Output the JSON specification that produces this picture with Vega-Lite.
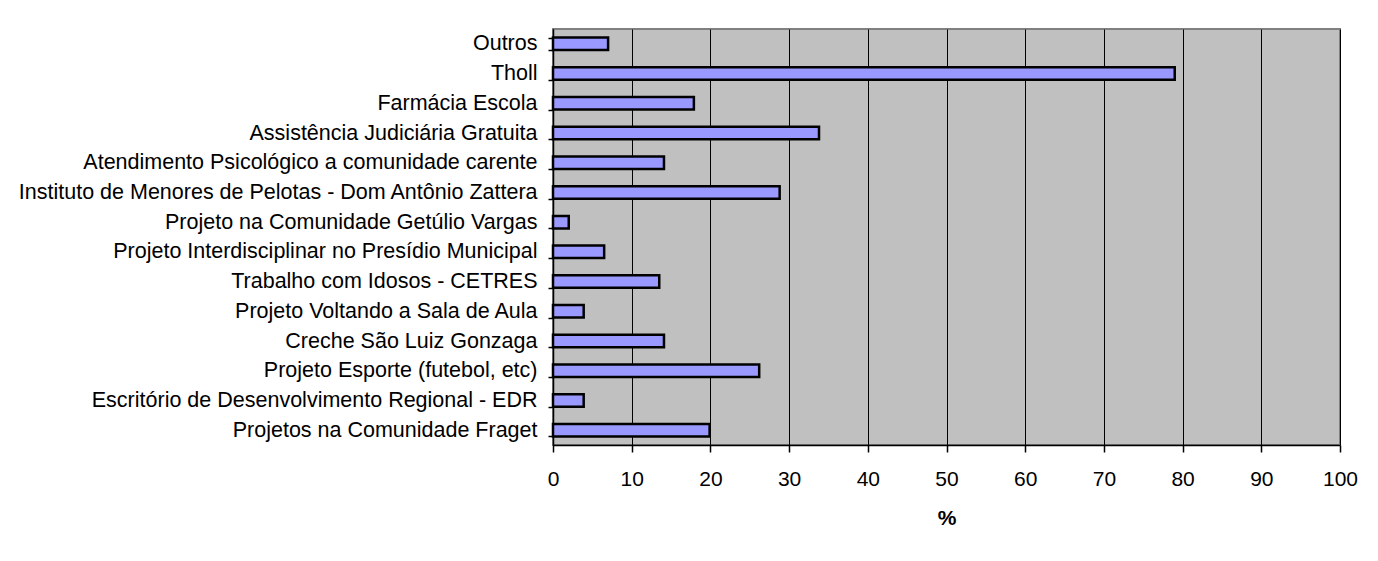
{
  "$schema": "https://vega.github.io/schema/vega-lite/v6.json",
  "width": 787,
  "height": 416,
  "autosize": {"type": "none"},
  "padding": {"left": 553, "top": 29, "right": 38, "bottom": 116},
  "background": "white",
  "data": {
    "values": [
      {"projeto": "Outros", "pct": 7.0},
      {"projeto": "Tholl", "pct": 79.0},
      {"projeto": "Farmácia Escola", "pct": 17.9},
      {"projeto": "Assistência Judiciária Gratuita", "pct": 33.8},
      {"projeto": "Atendimento Psicológico a comunidade carente", "pct": 14.1},
      {"projeto": "Instituto de Menores de Pelotas - Dom Antônio Zattera", "pct": 28.8},
      {"projeto": "Projeto na Comunidade Getúlio Vargas", "pct": 2.0},
      {"projeto": "Projeto Interdisciplinar no Presídio Municipal", "pct": 6.5},
      {"projeto": "Trabalho com Idosos - CETRES", "pct": 13.5},
      {"projeto": "Projeto Voltando a Sala de Aula", "pct": 3.9},
      {"projeto": "Creche São Luiz Gonzaga", "pct": 14.1},
      {"projeto": "Projeto Esporte (futebol, etc)", "pct": 26.2},
      {"projeto": "Escritório de Desenvolvimento Regional - EDR", "pct": 3.9},
      {"projeto": "Projetos na Comunidade Fraget", "pct": 19.9}
    ]
  },
  "mark": {"type": "bar", "fill": "#9999FF", "stroke": "#000000", "strokeWidth": 2.5},
  "encoding": {
    "y": {
      "field": "projeto",
      "type": "nominal",
      "sort": null,
      "scale": {"paddingInner": 0.58, "paddingOuter": 0.29},
      "axis": {
        "title": null,
        "tickBand": "extent",
        "grid": false,
        "domainColor": "#000000",
        "domainWidth": 1.5,
        "tickColor": "#000000",
        "tickWidth": 1.5,
        "tickSize": 5,
        "labelPadding": 11,
        "labelFont": "Liberation Sans",
        "labelFontSize": 21.5,
        "labelColor": "#000000",
        "labelLimit": 700
      }
    },
    "x": {
      "field": "pct",
      "type": "quantitative",
      "scale": {"domain": [0, 100], "nice": false},
      "axis": {
        "title": "%",
        "titleFont": "Liberation Sans",
        "titleFontSize": 21,
        "titleFontWeight": "bold",
        "titleColor": "#000000",
        "titlePadding": 18,
        "values": [0, 10, 20, 30, 40, 50, 60, 70, 80, 90, 100],
        "grid": true,
        "gridColor": "#000000",
        "gridWidth": 1,
        "domainColor": "#000000",
        "domainWidth": 1.5,
        "tickColor": "#000000",
        "tickWidth": 1.5,
        "tickSize": 7,
        "labelPadding": 16,
        "labelFont": "Liberation Sans",
        "labelFontSize": 21,
        "labelColor": "#000000",
        "labelFlush": false
      }
    }
  },
  "config": {
    "view": {"fill": "#C0C0C0", "stroke": "#808080", "strokeWidth": 2}
  }
}
